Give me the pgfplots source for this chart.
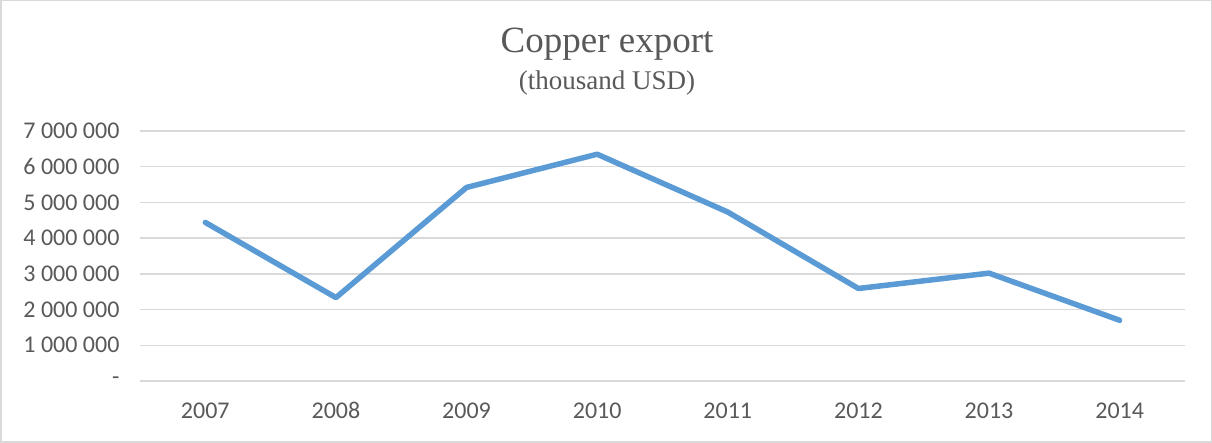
\documentclass[border=0pt]{standalone}
\usepackage{fontspec}
\setmainfont{Carlito}
\newfontfamily\titlefont{Liberation Serif}
\usepackage{pgfplots}
\pgfplotsset{compat=1.18}
\definecolor{lineblue}{HTML}{5B9BD5}
\definecolor{gridgrey}{HTML}{D9D9D9}
\definecolor{textgrey}{HTML}{595959}

\begin{document}
\begin{tikzpicture}
\useasboundingbox (0,0) rectangle (1212pt,443pt);
\draw[gridgrey, line width=1.5pt] (0.75pt,0.75pt) rectangle (1211.25pt,442.25pt);

\node[anchor=base, text=textgrey, font=\titlefont\fontsize{37}{40}\selectfont] at (607pt,390pt) {Copper export};
\node[anchor=base, text=textgrey, font=\titlefont\fontsize{27}{30}\selectfont] at (607pt,353pt) {(thousand USD)};

\begin{axis}[
    at={(140pt,62pt)}, anchor=south west,
    width=1045pt, height=250pt, scale only axis,
    xmin=2006.5, xmax=2014.5,
    ymin=0, ymax=7000000,
    scaled y ticks=false,
    xtick={2007,2008,2009,2010,2011,2012,2013,2014},
    ytick={0,1000000,2000000,3000000,4000000,5000000,6000000,7000000},
    yticklabels={-,1 000 000,2 000 000,3 000 000,4 000 000,5 000 000,6 000 000,7 000 000},
    /pgf/number format/assume math mode=true,
    /pgf/number format/1000 sep={},
    axis line style={draw=none},
    major tick length=0pt,
    ymajorgrids,
    grid style={gridgrey, line width=1.5pt},
    tick label style={text=textgrey, font=\fontsize{24}{27}\selectfont},
    yticklabel style={anchor=east, xshift=-17pt},
    xticklabel style={anchor=base, yshift=-38pt},
]
\addplot[lineblue, line width=5.5pt, line join=round, line cap=round, mark=none]
coordinates {(2007,4440000)(2008,2335000)(2009,5420000)(2010,6350000)(2011,4730000)(2012,2590000)(2013,3020000)(2014,1700000)};
\end{axis}
\end{tikzpicture}
\end{document}
